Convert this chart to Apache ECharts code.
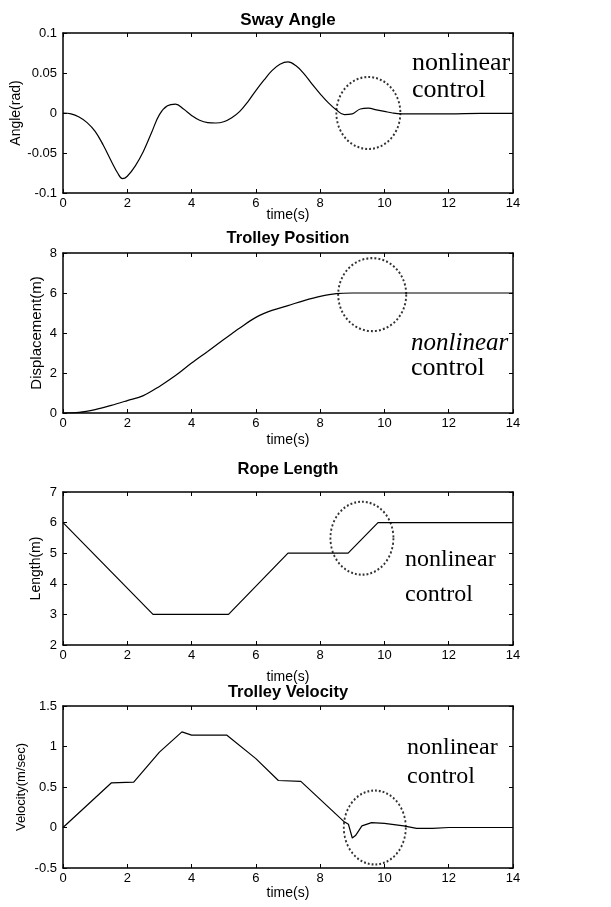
<!DOCTYPE html>
<html>
<head>
<meta charset="utf-8">
<script src="https://cdn.jsdelivr.net/npm/echarts@6/dist/echarts.min.js"></script>
<style>html,body{margin:0;padding:0;background:#fff;}#c{width:611px;height:907px;}</style>
</head>
<body>
<div id="c"></div>
<script>
// ---- data ----
const titles = ['Sway Angle', 'Trolley Position', 'Rope Length', 'Trolley Velocity'];
const yNames = ['Angle(rad)', 'Displacement(m)', 'Length(m)', 'Velocity(m/sec)'];
const xName = 'time(s)';

const swayT = [0,0.25,0.5,0.75,1.0,1.25,1.5,1.7,1.85,2.0,2.25,2.5,2.75,3.0,3.25,3.5,3.75,4.0,4.25,4.5,4.75,5.0,5.25,5.5,5.75,6.0,6.25,6.5,6.75,7.0,7.25,7.5,7.75,8.0,8.25,8.5,8.75,9.0,9.25,9.5,9.75,10.0,10.25,10.5,11,12,13,14];
const swayV = [0,-0.001,-0.005,-0.012,-0.023,-0.040,-0.060,-0.075,-0.082,-0.079,-0.066,-0.048,-0.025,-0.002,0.009,0.011,0.005,-0.003,-0.009,-0.012,-0.0125,-0.011,-0.006,0.002,0.014,0.028,0.041,0.053,0.061,0.064,0.059,0.049,0.036,0.024,0.013,0.004,-0.002,-0.001,0.005,0.006,0.004,0.002,0.0,-0.001,-0.001,-0.001,-0.0005,-0.0005];

const posT = [0,0.5,1,1.5,2,2.5,3,3.5,4,4.5,5,5.5,6,6.5,7,7.5,8,8.5,9,10,12,14];
const posV = [0,0.03,0.17,0.38,0.62,0.87,1.33,1.87,2.5,3.08,3.67,4.25,4.78,5.13,5.37,5.62,5.83,5.97,6,6,6,6];

const ropeT = [0,2.8,5.15,7.0,8.87,9.8,14];
const ropeV = [6,3,3,5,5,6,6];

const velT = [0,1.5,2.2,3.0,3.7,4.0,5.1,6.0,6.7,7.4,8.75,8.88,9.0,9.1,9.3,9.6,10.0,10.6,11.0,11.5,12,14];
const velV = [0,0.55,0.56,0.93,1.18,1.14,1.14,0.85,0.58,0.57,0.07,0.04,-0.13,-0.1,0.02,0.06,0.05,0.02,-0.01,-0.01,0,0];

const yMin = [-0.1, 0, 2, -0.5];
const yMax = [0.1, 8, 7, 1.5];
const yStep = [0.05, 2, 1, 0.5];
const xMin = 0, xMax = 14, xStep = 2;

// dotted circle annotations (centre in data units)
const circleCenters = [[9.5, 0], [9.62, 5.92], [9.3, 5.49], [9.7, 0]];

// ---- layout ----
const L = 63, W = 450;
const tops = [33, 253, 492, 706];
const heights = [160, 160, 153, 162];
const yNameGap = [40, 19, 20, 35];
const yNameSize = [14, 15, 14, 13];
const xNameGap = [15, 20, 25, 18];
const titleY = [20, 238, 469, 692];
const titleSize = [17, 16.5, 16.5, 16.5];
const circleSize = [[64, 72], [68, 73], [63, 73], [62, 74]];
const noteText = [
  {y1: 63, y2: 90, x: 412, s: 26, it: false},
  {y1: 343, y2: 368, x: 411, s: 25, it: true},
  {y1: 560, y2: 595, x: 405, s: 24, it: false},
  {y1: 748, y2: 777, x: 407, s: 24, it: false}
];

const seriesData = [
  swayT.map((t, i) => [t, swayV[i]]),
  posT.map((t, i) => [t, posV[i]]),
  ropeT.map((t, i) => [t, ropeV[i]]),
  velT.map((t, i) => [t, velV[i]])
];
const smoothOn = [0.4, 0.35, false, false];

const FONT = 'Liberation Sans, Arial, sans-serif';
const grid = [], xAxis = [], yAxis = [], series = [], graphic = [];

for (let i = 0; i < 4; i++) {
  grid.push({left: L, width: W, top: tops[i], height: heights[i], containLabel: false, outerBoundsMode: 'none'});
  const line = {show: true, onZero: false, lineStyle: {color: '#000', width: 1.5}};
  const tick = {show: true, inside: true, length: 4, lineStyle: {color: '#000', width: 1}};
  xAxis.push({
    gridIndex: i, type: 'value', min: xMin, max: xMax, interval: xStep, position: 'bottom',
    axisLine: line, axisTick: tick, splitLine: {show: false},
    axisLabel: {color: '#000', fontSize: 13, fontFamily: FONT, margin: 4},
    name: xName, nameLocation: 'middle', nameGap: xNameGap[i], nameMoveOverlap: false,
    nameTextStyle: {color: '#000', fontSize: 14, fontFamily: FONT}
  });
  xAxis.push({
    gridIndex: i, type: 'value', min: xMin, max: xMax, interval: xStep, position: 'top',
    axisLine: line, axisTick: tick, splitLine: {show: false}, axisLabel: {show: false}
  });
  yAxis.push({
    gridIndex: i, type: 'value', min: yMin[i], max: yMax[i], interval: yStep[i], position: 'left',
    axisLine: line, axisTick: tick, splitLine: {show: false},
    axisLabel: {color: '#000', fontSize: 13, fontFamily: FONT, margin: 6},
    name: yNames[i], nameLocation: 'middle', nameGap: yNameGap[i], nameMoveOverlap: false,
    nameTextStyle: {color: '#000', fontSize: yNameSize[i], fontFamily: FONT}
  });
  yAxis.push({
    gridIndex: i, type: 'value', min: yMin[i], max: yMax[i], interval: yStep[i], position: 'right',
    axisLine: line, axisTick: tick, splitLine: {show: false}, axisLabel: {show: false}
  });
  series.push({
    type: 'line', xAxisIndex: 2 * i, yAxisIndex: 2 * i, data: seriesData[i],
    smooth: smoothOn[i], showSymbol: false, symbol: 'none',
    lineStyle: {color: '#000', width: 1.2}, silent: true, animation: false
  });
  series.push({
    type: 'scatter', xAxisIndex: 2 * i, yAxisIndex: 2 * i, data: [circleCenters[i]],
    symbol: 'circle', symbolSize: circleSize[i], silent: true, animation: false,
    itemStyle: {color: 'rgba(0,0,0,0)', borderColor: '#000', borderWidth: 2, borderType: [2, 2.2]}
  });
  graphic.push({
    type: 'text', x: L + W / 2, y: titleY[i],
    style: {text: titles[i], textAlign: 'center', textVerticalAlign: 'middle',
            font: 'bold ' + titleSize[i] + 'px ' + FONT, fill: '#000'}
  });
  const n = noteText[i];
  graphic.push({
    type: 'text', x: n.x, y: n.y1,
    style: {text: 'nonlinear', textAlign: 'left', textVerticalAlign: 'middle',
            font: (n.it ? 'italic ' : '') + n.s + 'px Liberation Serif, Times New Roman, serif', fill: '#000'}
  });
  graphic.push({
    type: 'text', x: n.x, y: n.y2,
    style: {text: 'control', textAlign: 'left', textVerticalAlign: 'middle',
            font: (i === 1 ? 26 : n.s) + 'px Liberation Serif, Times New Roman, serif', fill: '#000'}
  });
}

const chart = echarts.init(document.getElementById('c'), null, {renderer: 'canvas'});
chart.setOption({backgroundColor: '#fff', animation: false, grid, xAxis, yAxis, series, graphic});
</script>
</body>
</html>
